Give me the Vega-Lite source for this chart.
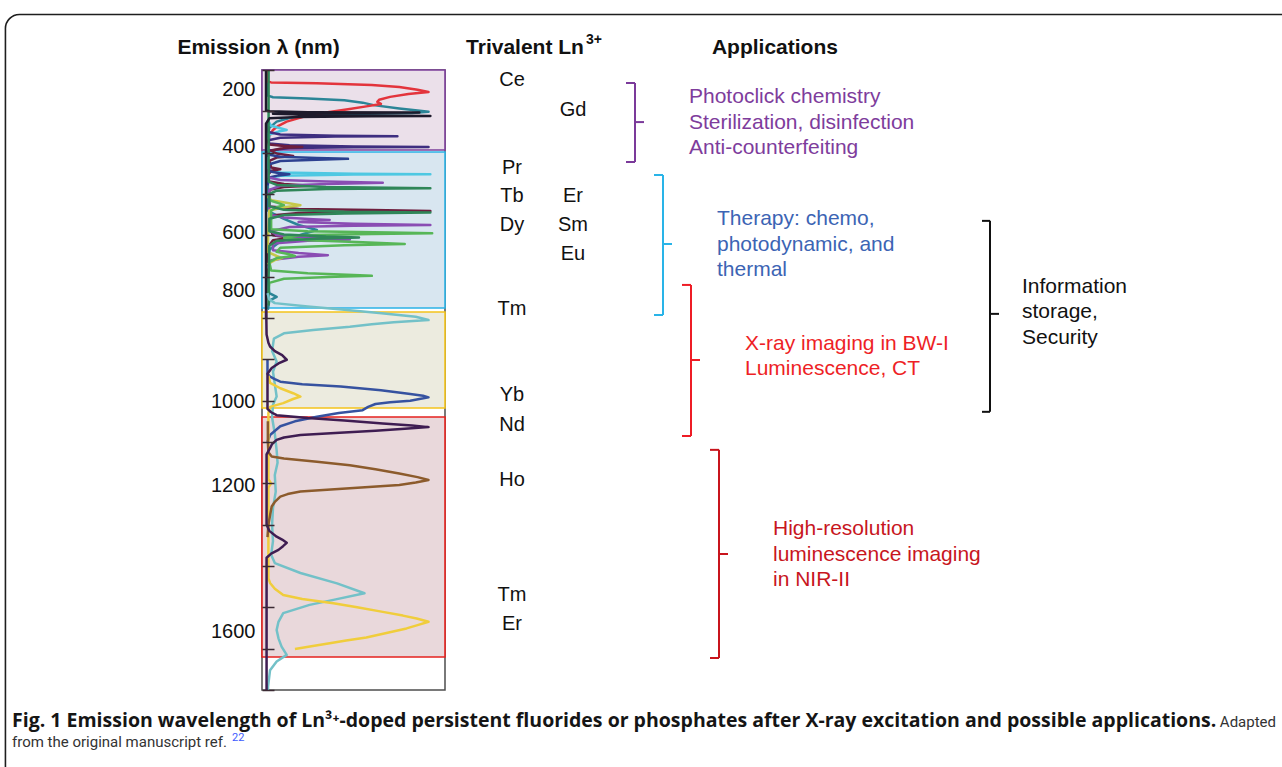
{
"$schema": "https://vega.github.io/schema/vega-lite/v6.json",
"width": 183,
"height": 620,
"autosize": {"type": "none"},
"padding": {"left": 262, "top": 70, "right": 837, "bottom": 77},
"background": "#ffffff",
"config": {"view": {"stroke": "#4d4d4d", "strokeWidth": 1.5}, "font": "Liberation Sans"},
"resolve": {"scale": {"x": "independent", "color": "independent"}},
"datasets": {
"bands": [
{"band": "UV", "wl0": 200, "wl1": 393.5},
{"band": "VIS", "wl0": 398.4, "wl1": 775.8},
{"band": "NIR-I", "wl0": 785.5, "wl1": 1017.8},
{"band": "NIR-II", "wl0": 1039.5, "wl1": 1620}
],
"ln": [
{"el": "Ce", "wl": 225, "col": "a"},
{"el": "Gd", "wl": 297, "col": "b"},
{"el": "Pr", "wl": 436, "col": "a"},
{"el": "Tb", "wl": 504, "col": "a"},
{"el": "Dy", "wl": 574, "col": "a"},
{"el": "Er", "wl": 504, "col": "b"},
{"el": "Sm", "wl": 574, "col": "b"},
{"el": "Eu", "wl": 645, "col": "b"},
{"el": "Tm", "wl": 779, "col": "a"},
{"el": "Yb", "wl": 987, "col": "a"},
{"el": "Nd", "wl": 1058, "col": "a"},
{"el": "Ho", "wl": 1193, "col": "a"},
{"el": "Tm", "wl": 1471, "col": "a"},
{"el": "Er", "wl": 1540, "col": "a"}
],
"apps": [
{"group": "uv", "top": 231.5, "bottom": 422.6, "mid": 326, "label": "Photoclick chemistry\nSterilization, disinfection\nAnti-counterfeiting"},
{"group": "vis", "top": 454, "bottom": 792.7, "mid": 621, "label": "Therapy: chemo,\nphotodynamic, and\nthermal"},
{"group": "nir1", "top": 720, "bottom": 1085.5, "mid": 901.6, "label": "X-ray imaging in BW-I\nLuminescence, CT"},
{"group": "nir2", "top": 1119, "bottom": 1622.6, "mid": 1371, "label": "High-resolution\nluminescence imaging\nin NIR-II"},
{"group": "info", "top": 565, "bottom": 1027, "mid": 790, "label": "Information\nstorage,\nSecurity"}
],
"spectra": [
{"s":"teal","wl":200,"I":3.2},{"s":"teal","wl":262,"I":3.2},{"s":"teal","wl":266,"I":6},{"s":"teal","wl":269,"I":25},{"s":"teal","wl":273,"I":45},{"s":"teal","wl":279,"I":55},{"s":"teal","wl":285,"I":61},{"s":"teal","wl":293,"I":75},{"s":"teal","wl":298,"I":85},{"s":"teal","wl":301,"I":91},{"s":"teal","wl":304,"I":82},{"s":"teal","wl":306,"I":55},{"s":"teal","wl":310,"I":30},{"s":"teal","wl":316,"I":15},{"s":"teal","wl":325,"I":8},{"s":"teal","wl":340,"I":4},{"s":"teal","wl":360,"I":3.2},{"s":"teal","wl":540,"I":3.2},{"s":"teal","wl":545,"I":5},{"s":"teal","wl":560,"I":12},{"s":"teal","wl":575,"I":20},{"s":"teal","wl":587,"I":30},{"s":"teal","wl":600,"I":20},{"s":"teal","wl":615,"I":10},{"s":"teal","wl":635,"I":4},{"s":"teal","wl":700,"I":3.2},{"s":"teal","wl":740,"I":4},{"s":"teal","wl":749,"I":8},{"s":"teal","wl":758,"I":4},{"s":"teal","wl":780,"I":3.2},
{"s":"Ce","wl":200,"I":3},{"s":"Ce","wl":228,"I":3},{"s":"Ce","wl":230,"I":5},{"s":"Ce","wl":232,"I":30},{"s":"Ce","wl":236,"I":60},{"s":"Ce","wl":241,"I":75},{"s":"Ce","wl":248,"I":85},{"s":"Ce","wl":253,"I":91},{"s":"Ce","wl":258,"I":80},{"s":"Ce","wl":265,"I":70},{"s":"Ce","wl":272,"I":64},{"s":"Ce","wl":277,"I":63},{"s":"Ce","wl":282,"I":65},{"s":"Ce","wl":288,"I":57},{"s":"Ce","wl":295,"I":47},{"s":"Ce","wl":303,"I":35},{"s":"Ce","wl":314,"I":22},{"s":"Ce","wl":325,"I":13.5},{"s":"Ce","wl":335,"I":9},{"s":"Ce","wl":345,"I":6},{"s":"Ce","wl":360,"I":4},{"s":"Ce","wl":390,"I":3},
{"s":"cyan","wl":320,"I":3},{"s":"cyan","wl":335,"I":5},{"s":"cyan","wl":341,"I":10},{"s":"cyan","wl":345,"I":13.5},{"s":"cyan","wl":349,"I":9},{"s":"cyan","wl":356,"I":4},{"s":"cyan","wl":430,"I":3},{"s":"cyan","wl":444,"I":3.5},{"s":"cyan","wl":448,"I":10},{"s":"cyan","wl":451,"I":50},{"s":"cyan","wl":452,"I":92},{"s":"cyan","wl":453,"I":50},{"s":"cyan","wl":456,"I":10},{"s":"cyan","wl":462,"I":3.5},{"s":"cyan","wl":480,"I":3},
{"s":"indigo","wl":330,"I":3},{"s":"indigo","wl":350,"I":3.5},{"s":"indigo","wl":356,"I":10},{"s":"indigo","wl":359,"I":40},{"s":"indigo","wl":360,"I":74},{"s":"indigo","wl":361,"I":40},{"s":"indigo","wl":364,"I":10},{"s":"indigo","wl":370,"I":3.5},{"s":"indigo","wl":378,"I":4},{"s":"indigo","wl":382,"I":15},{"s":"indigo","wl":385,"I":50},{"s":"indigo","wl":386,"I":91},{"s":"indigo","wl":387,"I":50},{"s":"indigo","wl":389,"I":15},{"s":"indigo","wl":395,"I":4},{"s":"indigo","wl":410,"I":3},
{"s":"maroon","wl":370,"I":3},{"s":"maroon","wl":380,"I":4},{"s":"maroon","wl":384,"I":12},{"s":"maroon","wl":386,"I":22},{"s":"maroon","wl":388,"I":12},{"s":"maroon","wl":395,"I":5},{"s":"maroon","wl":402,"I":8},{"s":"maroon","wl":408,"I":17},{"s":"maroon","wl":412,"I":8},{"s":"maroon","wl":420,"I":4},{"s":"maroon","wl":436,"I":5},{"s":"maroon","wl":440,"I":10},{"s":"maroon","wl":444,"I":5},{"s":"maroon","wl":455,"I":3},{"s":"maroon","wl":470,"I":4},{"s":"maroon","wl":476,"I":12},{"s":"maroon","wl":480,"I":26},{"s":"maroon","wl":483,"I":12},{"s":"maroon","wl":490,"I":4},{"s":"maroon","wl":530,"I":4},{"s":"maroon","wl":536,"I":20},{"s":"maroon","wl":539,"I":60},{"s":"maroon","wl":541,"I":92},{"s":"maroon","wl":543,"I":60},{"s":"maroon","wl":546,"I":20},{"s":"maroon","wl":552,"I":5},{"s":"maroon","wl":580,"I":4},{"s":"maroon","wl":600,"I":6},{"s":"maroon","wl":606,"I":15},{"s":"maroon","wl":612,"I":6},{"s":"maroon","wl":630,"I":3},{"s":"maroon","wl":700,"I":3},
{"s":"navy","wl":395,"I":3},{"s":"navy","wl":405,"I":4},{"s":"navy","wl":410,"I":10},{"s":"navy","wl":413,"I":30},{"s":"navy","wl":415,"I":47},{"s":"navy","wl":417,"I":30},{"s":"navy","wl":420,"I":10},{"s":"navy","wl":428,"I":4},{"s":"navy","wl":445,"I":4},{"s":"navy","wl":449,"I":9},{"s":"navy","wl":452,"I":15},{"s":"navy","wl":455,"I":9},{"s":"navy","wl":460,"I":4},{"s":"navy","wl":480,"I":3},
{"s":"purple","wl":440,"I":3},{"s":"purple","wl":460,"I":3.5},{"s":"purple","wl":466,"I":10},{"s":"purple","wl":470,"I":35},{"s":"purple","wl":473,"I":66},{"s":"purple","wl":476,"I":35},{"s":"purple","wl":480,"I":10},{"s":"purple","wl":490,"I":4},{"s":"purple","wl":550,"I":4},{"s":"purple","wl":557,"I":12},{"s":"purple","wl":561,"I":28},{"s":"purple","wl":563,"I":37},{"s":"purple","wl":565,"I":25},{"s":"purple","wl":568,"I":20},{"s":"purple","wl":572,"I":50},{"s":"purple","wl":575,"I":92},{"s":"purple","wl":577,"I":50},{"s":"purple","wl":580,"I":15},{"s":"purple","wl":590,"I":5},{"s":"purple","wl":600,"I":8},{"s":"purple","wl":606,"I":25},{"s":"purple","wl":610,"I":48},{"s":"purple","wl":613,"I":25},{"s":"purple","wl":620,"I":6},{"s":"purple","wl":636,"I":6},{"s":"purple","wl":643,"I":20},{"s":"purple","wl":648,"I":36},{"s":"purple","wl":652,"I":20},{"s":"purple","wl":660,"I":5},{"s":"purple","wl":680,"I":3},
{"s":"olive","wl":505,"I":3},{"s":"olive","wl":515,"I":5},{"s":"olive","wl":522,"I":14},{"s":"olive","wl":527,"I":21},{"s":"olive","wl":532,"I":12},{"s":"olive","wl":540,"I":4},{"s":"olive","wl":640,"I":3},{"s":"olive","wl":650,"I":8},{"s":"olive","wl":655,"I":11},{"s":"olive","wl":660,"I":7},{"s":"olive","wl":670,"I":3},
{"s":"green","wl":500,"I":3.5},{"s":"green","wl":515,"I":4},{"s":"green","wl":522,"I":9},{"s":"green","wl":527,"I":12},{"s":"green","wl":532,"I":8},{"s":"green","wl":540,"I":5},{"s":"green","wl":585,"I":5},{"s":"green","wl":590,"I":25},{"s":"green","wl":593,"I":70},{"s":"green","wl":595,"I":93},{"s":"green","wl":597,"I":60},{"s":"green","wl":600,"I":20},{"s":"green","wl":606,"I":12},{"s":"green","wl":612,"I":25},{"s":"green","wl":617,"I":55},{"s":"green","wl":621,"I":78},{"s":"green","wl":624,"I":45},{"s":"green","wl":630,"I":10},{"s":"green","wl":640,"I":8},{"s":"green","wl":646,"I":15},{"s":"green","wl":650,"I":18},{"s":"green","wl":655,"I":8},{"s":"green","wl":665,"I":4},{"s":"green","wl":685,"I":5},{"s":"green","wl":692,"I":25},{"s":"green","wl":696,"I":50},{"s":"green","wl":698,"I":60},{"s":"green","wl":700,"I":40},{"s":"green","wl":705,"I":12},{"s":"green","wl":715,"I":4},{"s":"green","wl":740,"I":3.5},
{"s":"darkgreen","wl":200,"I":3.6},{"s":"darkgreen","wl":470,"I":3.6},{"s":"darkgreen","wl":478,"I":8},{"s":"darkgreen","wl":483,"I":35},{"s":"darkgreen","wl":486,"I":92},{"s":"darkgreen","wl":488,"I":35},{"s":"darkgreen","wl":492,"I":8},{"s":"darkgreen","wl":500,"I":4},{"s":"darkgreen","wl":530,"I":4},{"s":"darkgreen","wl":538,"I":12},{"s":"darkgreen","wl":543,"I":45},{"s":"darkgreen","wl":545,"I":92},{"s":"darkgreen","wl":547,"I":45},{"s":"darkgreen","wl":551,"I":12},{"s":"darkgreen","wl":560,"I":4},{"s":"darkgreen","wl":590,"I":4},{"s":"darkgreen","wl":598,"I":12},{"s":"darkgreen","wl":603,"I":35},{"s":"darkgreen","wl":605,"I":53},{"s":"darkgreen","wl":608,"I":30},{"s":"darkgreen","wl":613,"I":8},{"s":"darkgreen","wl":625,"I":4},{"s":"darkgreen","wl":700,"I":3.6},{"s":"darkgreen","wl":770,"I":3.6},
{"s":"Gd","wl":200,"I":2.2},{"s":"Gd","wl":298,"I":2.2},{"s":"Gd","wl":300,"I":4},{"s":"Gd","wl":302,"I":25},{"s":"Gd","wl":303,"I":86},{"s":"Gd","wl":304,"I":25},{"s":"Gd","wl":306,"I":6},{"s":"Gd","wl":308,"I":25},{"s":"Gd","wl":310,"I":60},{"s":"Gd","wl":311,"I":92},{"s":"Gd","wl":312,"I":60},{"s":"Gd","wl":314,"I":20},{"s":"Gd","wl":317,"I":4},{"s":"Gd","wl":330,"I":2.2},{"s":"Gd","wl":800,"I":2.2},
{"s":"Tm","wl":740,"I":3},{"s":"Tm","wl":755,"I":4},{"s":"Tm","wl":764,"I":7},{"s":"Tm","wl":772,"I":25},{"s":"Tm","wl":780,"I":45},{"s":"Tm","wl":788,"I":64},{"s":"Tm","wl":797,"I":84},{"s":"Tm","wl":805,"I":91},{"s":"Tm","wl":810,"I":72},{"s":"Tm","wl":815,"I":60},{"s":"Tm","wl":821,"I":48},{"s":"Tm","wl":829,"I":28},{"s":"Tm","wl":837,"I":12},{"s":"Tm","wl":850,"I":6.5},{"s":"Tm","wl":880,"I":5.5},{"s":"Tm","wl":905,"I":8},{"s":"Tm","wl":930,"I":6},{"s":"Tm","wl":960,"I":7},{"s":"Tm","wl":990,"I":8},{"s":"Tm","wl":1010,"I":6},{"s":"Tm","wl":1040,"I":5.5},{"s":"Tm","wl":1080,"I":7},{"s":"Tm","wl":1120,"I":8},{"s":"Tm","wl":1150,"I":8.5},{"s":"Tm","wl":1180,"I":7},{"s":"Tm","wl":1220,"I":7.5},{"s":"Tm","wl":1260,"I":6},{"s":"Tm","wl":1300,"I":5.5},{"s":"Tm","wl":1340,"I":6},{"s":"Tm","wl":1373,"I":5},{"s":"Tm","wl":1393,"I":7},{"s":"Tm","wl":1417,"I":21},{"s":"Tm","wl":1442,"I":41},{"s":"Tm","wl":1466,"I":56},{"s":"Tm","wl":1482,"I":39},{"s":"Tm","wl":1494,"I":26},{"s":"Tm","wl":1514,"I":11.6},{"s":"Tm","wl":1535,"I":9},{"s":"Tm","wl":1555,"I":8},{"s":"Tm","wl":1575,"I":9},{"s":"Tm","wl":1595,"I":10.7},{"s":"Tm","wl":1615,"I":13.5},{"s":"Tm","wl":1631,"I":8},{"s":"Tm","wl":1652,"I":4.4},{"s":"Tm","wl":1692,"I":3.3},{"s":"Tm","wl":1700,"I":3.3},
{"s":"Yb","wl":900,"I":3},{"s":"Yb","wl":935,"I":3},{"s":"Yb","wl":942,"I":4.4},{"s":"Yb","wl":948,"I":7},{"s":"Yb","wl":954,"I":10},{"s":"Yb","wl":960,"I":22},{"s":"Yb","wl":966,"I":43},{"s":"Yb","wl":975,"I":65},{"s":"Yb","wl":983,"I":80},{"s":"Yb","wl":988,"I":88},{"s":"Yb","wl":992,"I":91},{"s":"Yb","wl":996,"I":86},{"s":"Yb","wl":1000,"I":81},{"s":"Yb","wl":1004,"I":70},{"s":"Yb","wl":1008,"I":62},{"s":"Yb","wl":1015,"I":58},{"s":"Yb","wl":1023,"I":55},{"s":"Yb","wl":1030,"I":42},{"s":"Yb","wl":1039,"I":30},{"s":"Yb","wl":1050,"I":18},{"s":"Yb","wl":1062,"I":10},{"s":"Yb","wl":1083,"I":4.4},{"s":"Yb","wl":1100,"I":3},
{"s":"Er","wl":940,"I":3.5},{"s":"Er","wl":957,"I":4.4},{"s":"Er","wl":970,"I":10},{"s":"Er","wl":982,"I":17},{"s":"Er","wl":990,"I":21},{"s":"Er","wl":996,"I":17},{"s":"Er","wl":1006,"I":11.6},{"s":"Er","wl":1015,"I":4.4},{"s":"Er","wl":1030,"I":3.5},{"s":"Er","wl":1190,"I":3.5},{"s":"Er","wl":1200,"I":5},{"s":"Er","wl":1210,"I":3.5},{"s":"Er","wl":1430,"I":3.5},{"s":"Er","wl":1441,"I":4.4},{"s":"Er","wl":1455,"I":7},{"s":"Er","wl":1470,"I":11.6},{"s":"Er","wl":1480,"I":22},{"s":"Er","wl":1490,"I":39},{"s":"Er","wl":1500,"I":52},{"s":"Er","wl":1511,"I":66},{"s":"Er","wl":1520,"I":77},{"s":"Er","wl":1527,"I":84.5},{"s":"Er","wl":1535,"I":91},{"s":"Er","wl":1543,"I":85},{"s":"Er","wl":1551,"I":79},{"s":"Er","wl":1562,"I":68},{"s":"Er","wl":1573,"I":57},{"s":"Er","wl":1580,"I":46},{"s":"Er","wl":1587,"I":37},{"s":"Er","wl":1594,"I":27},{"s":"Er","wl":1601,"I":18},
{"s":"Ho","wl":1050,"I":3.2},{"s":"Ho","wl":1100,"I":3.2},{"s":"Ho","wl":1125,"I":3.5},{"s":"Ho","wl":1135,"I":5.3},{"s":"Ho","wl":1140,"I":12},{"s":"Ho","wl":1148,"I":30},{"s":"Ho","wl":1156,"I":48},{"s":"Ho","wl":1166,"I":62},{"s":"Ho","wl":1176,"I":75},{"s":"Ho","wl":1185,"I":85},{"s":"Ho","wl":1192,"I":91},{"s":"Ho","wl":1198,"I":84},{"s":"Ho","wl":1204,"I":75},{"s":"Ho","wl":1212,"I":48},{"s":"Ho","wl":1220,"I":21},{"s":"Ho","wl":1226,"I":14},{"s":"Ho","wl":1232,"I":10},{"s":"Ho","wl":1245,"I":7},{"s":"Ho","wl":1256,"I":5.3},{"s":"Ho","wl":1275,"I":4.5},{"s":"Ho","wl":1300,"I":3.5},{"s":"Ho","wl":1330,"I":3},
{"s":"Nd","wl":780,"I":2.3},{"s":"Nd","wl":840,"I":2.5},{"s":"Nd","wl":860,"I":3.5},{"s":"Nd","wl":869,"I":4.4},{"s":"Nd","wl":880,"I":7},{"s":"Nd","wl":890,"I":11},{"s":"Nd","wl":901,"I":13.5},{"s":"Nd","wl":910,"I":9},{"s":"Nd","wl":921,"I":5.3},{"s":"Nd","wl":935,"I":3},{"s":"Nd","wl":1020,"I":3},{"s":"Nd","wl":1028,"I":5},{"s":"Nd","wl":1035,"I":8},{"s":"Nd","wl":1042,"I":25},{"s":"Nd","wl":1048,"I":45},{"s":"Nd","wl":1055,"I":66},{"s":"Nd","wl":1060,"I":82},{"s":"Nd","wl":1064,"I":91},{"s":"Nd","wl":1068,"I":78},{"s":"Nd","wl":1073,"I":62},{"s":"Nd","wl":1078,"I":40},{"s":"Nd","wl":1083,"I":21},{"s":"Nd","wl":1089,"I":12},{"s":"Nd","wl":1095,"I":8},{"s":"Nd","wl":1105,"I":5.5},{"s":"Nd","wl":1115,"I":4.4},{"s":"Nd","wl":1130,"I":2.5},{"s":"Nd","wl":1300,"I":2.5},{"s":"Nd","wl":1315,"I":4},{"s":"Nd","wl":1329,"I":8},{"s":"Nd","wl":1336,"I":11},{"s":"Nd","wl":1344,"I":13.5},{"s":"Nd","wl":1352,"I":11.5},{"s":"Nd","wl":1361,"I":9},{"s":"Nd","wl":1370,"I":5},{"s":"Nd","wl":1380,"I":2.5},{"s":"Nd","wl":1700,"I":2.5}
]
},
"layer": [
{
"data": {"values": [{}]},
"mark": {"type": "rect", "filled": false, "stroke": "#1e1e1e", "strokeWidth": 1.6, "cornerRadius": 14},
"encoding": {
"x": {"datum": -140.2, "type": "quantitative", "scale": {"domain": [0, 100]}, "axis": null},
"x2": {"datum": 567},
"y": {"datum": 65.7, "type": "quantitative", "title": null},
"y2": {"datum": 1966}
}
},
{
"data": {"name": "bands"},
"mark": {"type": "rect", "strokeWidth": 1.6},
"encoding": {
"y": {"field": "wl0", "type": "quantitative", "title": null,
"scale": {"domain": [200, 1700], "reverse": true, "nice": false, "zero": false},
"axis": {
"values": [200, 300, 400, 500, 600, 700, 800, 900, 1000, 1100, 1200, 1300, 1400, 1500, 1600, 1700],
"labelExpr": "indexof([200, 400, 600, 800, 1000, 1200, 1600], datum.value) >= 0 ? datum.label : ''",
"format": "d",
"labelFont": "Liberation Sans", "labelFontSize": 20, "labelColor": "#111111",
"labelPadding": 19, "labelOverlap": false, "labelFlush": false, "labelBound": false,
"labelOffset": {"condition": [
{"test": "datum.value === 200", "value": 19},
{"test": "datum.value === 400", "value": -6},
{"test": "datum.value === 600", "value": -3},
{"test": "datum.value === 800", "value": -28},
{"test": "datum.value === 1000", "value": 1},
{"test": "datum.value === 1200", "value": 2},
{"test": "datum.value === 1600", "value": -17}
], "value": 0},
"tickSize": -12, "tickColor": "#3b2a33", "tickWidth": 1.5,
"domain": false, "grid": false, "zindex": 1
}
},
"y2": {"field": "wl1"},
"fill": {"field": "band", "type": "nominal", "legend": null,
"scale": {"domain": ["UV", "VIS", "NIR-I", "NIR-II"], "range": ["#ebe0ea", "#d8e6f0", "#ecebdf", "#e9d8db"]}},
"stroke": {"field": "band", "type": "nominal", "legend": null,
"scale": {"domain": ["UV", "VIS", "NIR-I", "NIR-II"], "range": ["#7e3f9b", "#2bb3e6", "#f3c41c", "#e5221f"]}}
}
},
{
"data": {"name": "spectra"},
"mark": {"type": "line", "strokeWidth": 2.5, "strokeJoin": "round", "interpolate": "linear"},
"encoding": {
"y": {"field": "wl", "type": "quantitative", "title": null},
"x": {"field": "I", "type": "quantitative", "scale": {"domain": [0, 100]}, "axis": null},
"order": {"field": "wl", "type": "quantitative"},
"color": {"field": "s", "type": "nominal", "legend": null,
"scale": {"domain": ["teal", "Ce", "cyan", "indigo", "maroon", "navy", "purple", "olive", "green", "darkgreen", "Gd", "Tm", "Yb", "Er", "Ho", "Nd"],
"range": ["#2b8597", "#e3343c", "#4ec8e2", "#3e2e80", "#6e1e3e", "#2c4090", "#8a4db3", "#c5c84a", "#57b657", "#2f8658", "#1d1a2b", "#73c1c8", "#3652a0", "#f0cd3c", "#8c5b2c", "#3f1d52"]}}
}
},
{
"data": {"name": "ln"},
"mark": {"type": "text", "fontSize": 20, "font": "Liberation Sans", "color": "#111111", "align": "center", "baseline": "middle"},
"encoding": {
"y": {"field": "wl", "type": "quantitative", "title": null},
"x": {"field": "col", "type": "nominal", "axis": null, "scale": {"type": "point", "domain": ["a", "b"], "range": [250, 311], "padding": 0}},
"text": {"field": "el"}
}
},
{
"data": {"name": "apps"},
"transform": [{"filter": "datum.group !== 'info'"}],
"mark": {"type": "rule", "strokeWidth": 2},
"encoding": {
"x": {"field": "group", "type": "nominal", "axis": null, "scale": {"type": "point", "domain": ["uv", "vis", "nir1", "nir2"], "range": [373, 457], "padding": 0}},
"y": {"field": "top", "type": "quantitative", "title": null},
"y2": {"field": "bottom"},
"color": {"field": "group", "type": "nominal", "legend": null, "scale": {"domain": ["uv", "vis", "nir1", "nir2"], "range": ["#7b3a9a", "#29b4e8", "#ee1c25", "#c8141c"]}}
}
},
{
"data": {"name": "apps"},
"transform": [{"filter": "datum.group !== 'info'"}, {"fold": ["top", "bottom"], "as": ["end", "wlc"]}],
"mark": {"type": "rule", "strokeWidth": 2, "x2Offset": -9},
"encoding": {
"x": {"field": "group", "type": "nominal", "axis": null, "scale": {"type": "point", "domain": ["uv", "vis", "nir1", "nir2"], "range": [373, 457], "padding": 0}},
"x2": {"field": "group"},
"y": {"field": "wlc", "type": "quantitative", "title": null},
"color": {"field": "group", "type": "nominal", "legend": null, "scale": {"domain": ["uv", "vis", "nir1", "nir2"], "range": ["#7b3a9a", "#29b4e8", "#ee1c25", "#c8141c"]}}
}
},
{
"data": {"name": "apps"},
"transform": [{"filter": "datum.group !== 'info'"}],
"mark": {"type": "rule", "strokeWidth": 2, "x2Offset": 9},
"encoding": {
"x": {"field": "group", "type": "nominal", "axis": null, "scale": {"type": "point", "domain": ["uv", "vis", "nir1", "nir2"], "range": [373, 457], "padding": 0}},
"x2": {"field": "group"},
"y": {"field": "mid", "type": "quantitative", "title": null},
"color": {"field": "group", "type": "nominal", "legend": null, "scale": {"domain": ["uv", "vis", "nir1", "nir2"], "range": ["#7b3a9a", "#29b4e8", "#ee1c25", "#c8141c"]}}
}
},
{
"data": {"name": "apps"},
"transform": [{"filter": "datum.group !== 'info' && datum.group !== 'nir1'"}],
"mark": {"type": "text", "fontSize": 21, "font": "Liberation Sans", "align": "left", "baseline": "middle", "dx": 54, "dy": -25, "lineHeight": 25.5, "lineBreak": "\n"},
"encoding": {
"x": {"field": "group", "type": "nominal", "axis": null, "scale": {"type": "point", "domain": ["uv", "vis", "nir1", "nir2"], "range": [373, 457], "padding": 0}},
"y": {"field": "mid", "type": "quantitative", "title": null},
"text": {"field": "label"},
"color": {"field": "group", "type": "nominal", "legend": null, "scale": {"domain": ["uv", "vis", "nir1", "nir2"], "range": ["#7e3c9c", "#3c64b4", "#ee1f26", "#c8161e"]}}
}
},
{
"data": {"name": "apps"},
"transform": [{"filter": "datum.group === 'nir1'"}],
"mark": {"type": "text", "fontSize": 21, "font": "Liberation Sans", "align": "left", "baseline": "middle", "dx": 54, "dy": -16, "lineHeight": 25.5, "lineBreak": "\n", "color": "#ee1f26"},
"encoding": {
"x": {"field": "group", "type": "nominal", "axis": null, "scale": {"type": "point", "domain": ["uv", "vis", "nir1", "nir2"], "range": [373, 457], "padding": 0}},
"y": {"field": "mid", "type": "quantitative", "title": null},
"text": {"field": "label"}
}
},
{
"data": {"name": "apps"},
"transform": [{"filter": "datum.group === 'info'"}],
"mark": {"type": "rule", "strokeWidth": 2, "color": "#111111"},
"encoding": {
"x": {"field": "group", "type": "nominal", "axis": null, "scale": {"type": "point", "domain": ["info"], "range": [728, 728], "padding": 0}},
"y": {"field": "top", "type": "quantitative", "title": null},
"y2": {"field": "bottom"}
}
},
{
"data": {"name": "apps"},
"transform": [{"filter": "datum.group === 'info'"}, {"fold": ["top", "bottom"], "as": ["end", "wlc"]}],
"mark": {"type": "rule", "strokeWidth": 2, "color": "#111111", "x2Offset": -8},
"encoding": {
"x": {"field": "group", "type": "nominal", "axis": null, "scale": {"type": "point", "domain": ["info"], "range": [728, 728], "padding": 0}},
"x2": {"field": "group"},
"y": {"field": "wlc", "type": "quantitative", "title": null}
}
},
{
"data": {"name": "apps"},
"transform": [{"filter": "datum.group === 'info'"}],
"mark": {"type": "rule", "strokeWidth": 2, "color": "#111111", "x2Offset": 9},
"encoding": {
"x": {"field": "group", "type": "nominal", "axis": null, "scale": {"type": "point", "domain": ["info"], "range": [728, 728], "padding": 0}},
"x2": {"field": "group"},
"y": {"field": "mid", "type": "quantitative", "title": null}
}
},
{
"data": {"name": "apps"},
"transform": [{"filter": "datum.group === 'info'"}],
"mark": {"type": "text", "fontSize": 21, "font": "Liberation Sans", "color": "#111111", "align": "left", "baseline": "middle", "dx": 32, "dy": -27, "lineHeight": 25.5, "lineBreak": "\n"},
"encoding": {
"x": {"field": "group", "type": "nominal", "axis": null, "scale": {"type": "point", "domain": ["info"], "range": [728, 728], "padding": 0}},
"y": {"field": "mid", "type": "quantitative", "title": null},
"text": {"field": "label"}
}
},
{
"data": {"values": [{"t": "Emission λ (nm)"}]},
"mark": {"type": "text", "fontSize": 21, "fontWeight": "bold", "font": "Liberation Sans", "color": "#111111", "align": "center", "baseline": "middle"},
"encoding": {
"x": {"datum": -1.9, "type": "quantitative", "scale": {"domain": [0, 100]}, "axis": null},
"y": {"datum": 146.8, "type": "quantitative", "title": null},
"text": {"field": "t"}
}
},
{
"data": {"values": [{"t": "Trivalent Ln"}]},
"mark": {"type": "text", "fontSize": 21, "fontWeight": "bold", "font": "Liberation Sans", "color": "#111111", "align": "left", "baseline": "middle"},
"encoding": {
"x": {"datum": 111.5, "type": "quantitative", "scale": {"domain": [0, 100]}, "axis": null},
"y": {"datum": 146.8, "type": "quantitative", "title": null},
"text": {"field": "t"}
}
},
{
"data": {"values": [{"t": "3+"}]},
"mark": {"type": "text", "fontSize": 14, "fontWeight": "bold", "font": "Liberation Sans", "color": "#111111", "align": "left", "baseline": "middle"},
"encoding": {
"x": {"datum": 177, "type": "quantitative", "scale": {"domain": [0, 100]}, "axis": null},
"y": {"datum": 127.4, "type": "quantitative", "title": null},
"text": {"field": "t"}
}
},
{
"data": {"values": [{"t": "Applications"}]},
"mark": {"type": "text", "fontSize": 21, "fontWeight": "bold", "font": "Liberation Sans", "color": "#111111", "align": "center", "baseline": "middle"},
"encoding": {
"x": {"datum": 280.3, "type": "quantitative", "scale": {"domain": [0, 100]}, "axis": null},
"y": {"datum": 146.8, "type": "quantitative", "title": null},
"text": {"field": "t"}
}
},
{
"data": {"values": [{"t": "Fig. 1 Emission wavelength of Ln³⁺-doped persistent fluorides or phosphates after X-ray excitation and possible applications."}]},
"mark": {"type": "text", "fontSize": 19.5, "fontWeight": "bold", "font": "Open Sans", "color": "#151515", "align": "left", "baseline": "alphabetic"},
"encoding": {
"x": {"datum": -136.6, "type": "quantitative", "scale": {"domain": [0, 100]}, "axis": null},
"y": {"datum": 1790.7, "type": "quantitative", "title": null},
"text": {"field": "t"}
}
},
{
"data": {"values": [{"t": "Adapted"}]},
"mark": {"type": "text", "fontSize": 15, "font": "Roboto", "color": "#333333", "align": "right", "baseline": "alphabetic"},
"encoding": {
"x": {"datum": 554.1, "type": "quantitative", "scale": {"domain": [0, 100]}, "axis": null},
"y": {"datum": 1790.7, "type": "quantitative", "title": null},
"text": {"field": "t"}
}
},
{
"data": {"values": [{"t": "from the original manuscript ref."}]},
"mark": {"type": "text", "fontSize": 15, "font": "Roboto", "color": "#333333", "align": "left", "baseline": "alphabetic"},
"encoding": {
"x": {"datum": -136.6, "type": "quantitative", "scale": {"domain": [0, 100]}, "axis": null},
"y": {"datum": 1838.5, "type": "quantitative", "title": null},
"text": {"field": "t"}
}
},
{
"data": {"values": [{"t": "22"}]},
"mark": {"type": "text", "fontSize": 11, "font": "Roboto", "color": "#3d5afe", "align": "left", "baseline": "alphabetic"},
"encoding": {
"x": {"datum": -16.4, "type": "quantitative", "scale": {"domain": [0, 100]}, "axis": null},
"y": {"datum": 1824, "type": "quantitative", "title": null},
"text": {"field": "t"}
}
}
]
}
